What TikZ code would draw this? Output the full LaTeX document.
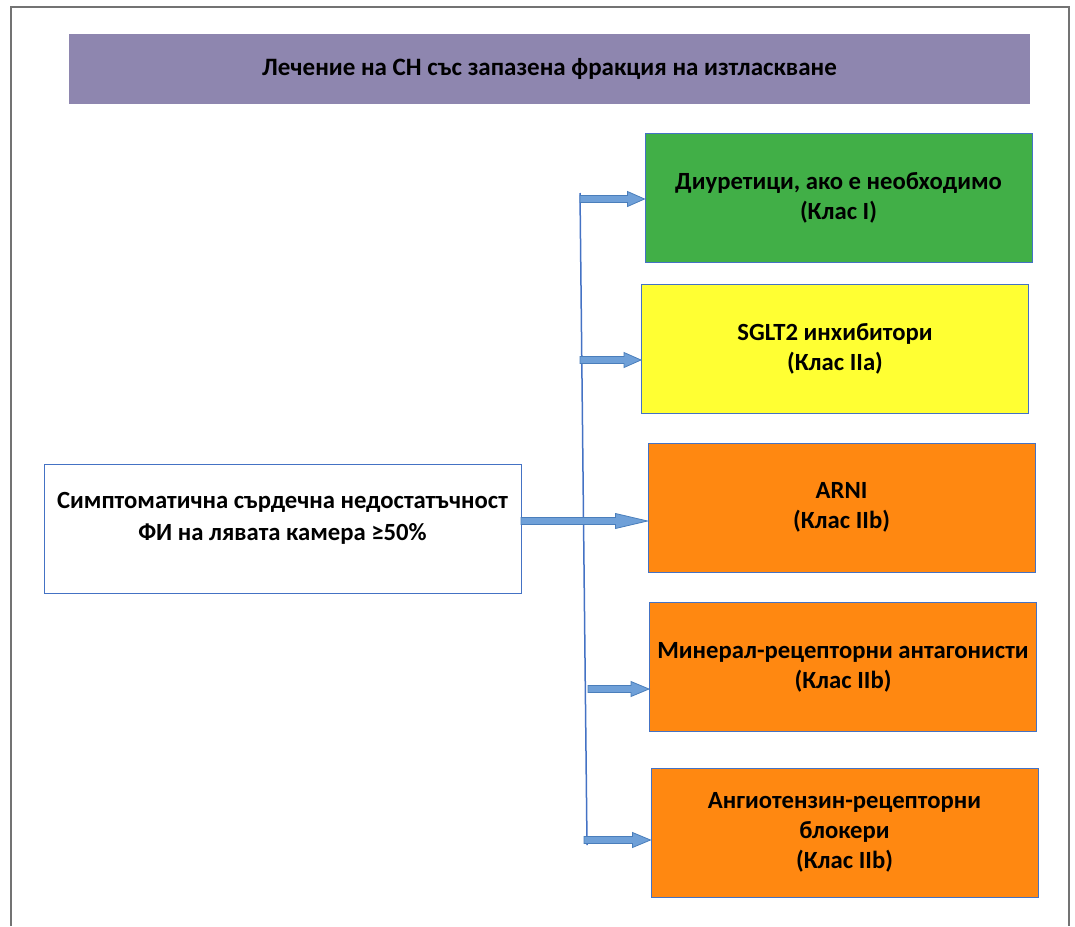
\documentclass[tikz,border=0pt]{standalone}
\usepackage{fontspec}
\setmainfont{Carlito}
\usetikzlibrary{positioning}
\usetikzlibrary{calc}

\definecolor{titlepurple}{HTML}{8E86AF}
\definecolor{boxgreen}{HTML}{41AF47}
\definecolor{boxyellow}{HTML}{FFFF33}
\definecolor{boxorange}{HTML}{FF8811}
\definecolor{edgeblue}{HTML}{4472C4}
\definecolor{arrowfill}{HTML}{6FA0D8}
\definecolor{arrowedge}{HTML}{4A7EBB}

\tikzset{
  classbox/.style={draw=edgeblue, line width=1pt, minimum width=387pt, minimum height=129pt,
    align=center, font=\bfseries\fontsize{24.7}{30}\selectfont, inner sep=0pt},
  fatarrow/.style={draw=arrowedge, fill=arrowfill, line width=0.8pt, line join=miter},
}

% block arrow: start, tip, head length
\newcommand{\fatarrowdraw}[3]{%
  \draw[fatarrow] ($(#1)+(0,-3.5)$) -- ($(#2)+(-#3,-3.5)$) -- ($(#2)+(-#3,-7.5)$) -- (#2)
    -- ($(#2)+(-#3,7.5)$) -- ($(#2)+(-#3,3.5)$) -- ($(#1)+(0,3.5)$) -- cycle;}

\begin{document}
\begin{tikzpicture}[x=1pt, y=-1pt]
\useasboundingbox (0,0) rectangle (1075,926);

% frame
\draw[gray!110, line width=2pt] (11,926) -- (11,7) -- (1069,7) -- (1069,926);

% title
\node[fill=titlepurple, minimum width=961pt, minimum height=70pt, inner sep=0pt,
  font=\bfseries\fontsize{25}{30}\selectfont] (title) at (549.5,69) {\raisebox{-2pt}{Лечение на СН със запазена фракция на изтласкване}};

% left box
\node[draw=edgeblue, line width=1pt, fill=white, minimum width=477pt, minimum height=129pt, inner sep=0pt,
  label={[yshift=10.5pt, align=center, font=\bfseries\fontsize{24.7}{32}\selectfont]center:Симптоматична сърдечна недостатъчност\\ФИ на лявата камера ≥50\%}]
  (hf) at (282.5,528.5) {};

% class boxes
\node[classbox, fill=boxgreen, text depth=4pt] (diur) at (838.5,197.5) {\fontsize{24.7}{28}\selectfont Диуретици, ако е необходимо\\(Клас I)};
\node[classbox, fill=boxyellow] (sglt) at (835,349) {SGLT2 инхибитори\\(Клас IIa)};
\node[classbox, fill=boxorange] (arni) at (841.5,507.5) {ARNI\\(Клас IIb)};
\node[classbox, fill=boxorange] (mra) at (843,667) {\fontsize{24.7}{32}\selectfont Минерал-рецепторни антагонисти\\(Клас IIb)};
\node[classbox, fill=boxorange] (arb) at (844.5,832.5) {Ангиотензин-рецепторни\\блокери\\(Клас IIb)};

% branch line
\coordinate (top) at (580,193);
\coordinate (bot) at (587,845);
\draw[edgeblue, line width=1.5pt] (top) -- (bot);

\coordinate (s1) at (580,199);
\coordinate (s2) at (580,360);
\coordinate (s3) at (521,521);
\coordinate (s4) at (588,689);
\coordinate (s5) at (584,840);

\fatarrowdraw{s1}{s1 -| diur.west}{17}
\fatarrowdraw{s2}{s2 -| sglt.west}{17}
\fatarrowdraw{s3}{s3 -| arni.west}{32}
\fatarrowdraw{s4}{s4 -| mra.west}{18}
\fatarrowdraw{s5}{s5 -| arb.west}{18}

\end{tikzpicture}
\end{document}
